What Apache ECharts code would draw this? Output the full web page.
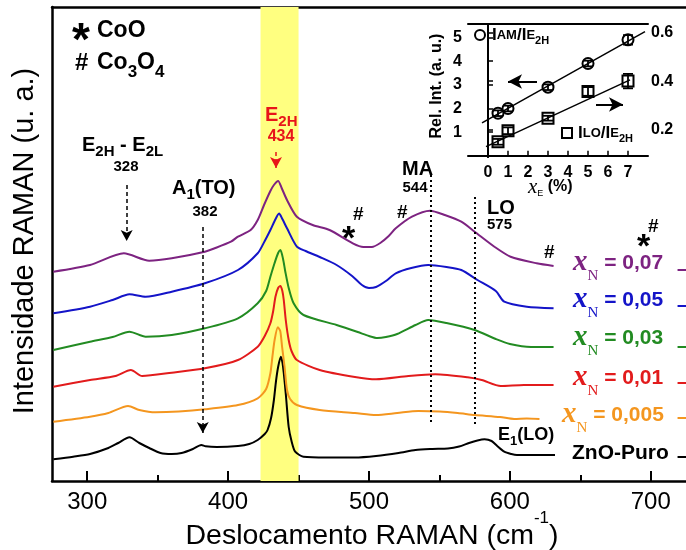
<!DOCTYPE html>
<html>
<head>
<meta charset="utf-8">
<script src="https://cdn.jsdelivr.net/npm/echarts@6/dist/echarts.min.js"></script>
<style>
  html, body { margin: 0; padding: 0; background: #fff; }
  #chart { width: 686px; height: 550px; }
</style>
</head>
<body>
<div id="chart"></div>
<script>
// Raman spectra of Zn(1-x)Co(x)O samples: [shift (cm-1), intensity (a.u.)],
// each spectrum stacked with its own vertical offset.
const spectrumZnO = [[276,21.7],[290,24.3],[302,27],[315,33],[322,38],[330,43.7],[337,38],[344,33],[352,28],[360,27],[367,28],[375,32],[381,36],[384,34.7],[392,34],[407,35],[415,37],[421,41],[426,47],[428,51],[430.5,63],[432.5,81],[434,100],[435.5,114],[437.4,124.3],[438.5,119],[439.5,108],[441,86],[443,54],[445,40],[447.6,29.3],[453.5,24.3],[470,23.5],[490,23.5],[505,25],[521,28],[533,31],[545,32],[556,32.5],[564,34.5],[571,38],[577,40.5],[582,41.7],[587,40],[591,35],[596,29.3],[601,27],[605,26],[615,26],[632,26]];
const spectrum0005 = [[276,59.3],[302,64.3],[315,68],[329,75],[337,71],[348.5,68.7],[365,69.5],[383.5,71.7],[407,76],[421,82.7],[427,92],[430,107.7],[431.5,125],[433,141],[435.3,153.7],[437,150],[438.3,134.3],[440,115],[441.8,91],[444,82],[448.8,76],[465,71],[490,68],[505,66],[520,68],[535,70],[550,69.5],[563,68],[575,66],[593,64],[603,62],[612,62.5],[621,62]];
const spectrum001 = [[276,94.3],[302,101],[320,105],[331,111],[339,105],[360,108.3],[383.5,112.7],[407,121],[421,134.3],[426,145],[430,157.7],[432,170],[433.6,184.3],[435.5,193],[437.1,195],[438.5,190],[439.5,181],[441,160],[443,141],[445,130],[448.8,121],[465,111],[490,104],[505,101.7],[528,105],[547,106.7],[570,103.7],[580,101],[593.5,95],[610,96],[631,96]];
const spectrum003 = [[276,131],[302,139.3],[318,144],[330,149.3],[341.5,144.3],[360,146],[383.5,152.7],[407,162.7],[421,177.7],[427,190],[430,204.3],[433,218],[435.5,228],[437.1,231],[439,222],[440.6,209.3],[443,193],[446.5,177.7],[453.5,166],[477,156],[492,149],[500,145],[506,143],[512,144],[520,147],[533,156],[542,161],[555,158],[575,151],[590,142],[600,137],[615,134],[631,134]];
const spectrum005 = [[276,167.7],[302,174.3],[318,181],[330,186.7],[341.5,184.3],[360,189.3],[383.5,197.7],[407,211],[421,227.7],[426,240],[430,251],[433,260],[436.2,267.5],[438.5,262],[441.8,252.7],[448.8,234.3],[455,230],[465,224],[477,216],[488,205],[495,196],[500,193],[505,194],[512,200],[519,207.7],[530,213],[542,216],[555,214],[565.5,211],[577,201],[590,190],[596,179.3],[612,174.3],[631,172.7]];
const spectrum007 = [[276,209.3],[302,216],[326,227.7],[344,220.3],[360,222.7],[383.5,229.3],[390.5,232.7],[402,239.3],[407,244.3],[416,251],[421,261],[425.5,276],[430,290],[432.5,296],[435.5,300],[438,293],[441.8,281],[448.8,264.3],[460,256],[472,251],[488.5,237.7],[496,234],[502,234],[508,238],[514,245],[519,252.7],[530.5,264.3],[543.3,270.3],[553.8,266],[565.5,259.3],[575,249.3],[589,234.3],[600.5,224.3],[619,217.7],[631,215]];

// Short segments where each trace continues past the right edge
const edgeLevels = [24, 63, 98, 134, 175, 211];
const edgeShifts = [719, 725];

// Phonon modes marked on the spectra (cm-1)
const modeE2HE2L = 328;
const modeA1TO = 382;
const modeE2H = 434;
const modeMA = 544;
const modeLO = 575;
const bandE2H = [423, 450];

// Main axis ticks
const shiftTicks = [300, 400, 500, 600, 700];
const shiftMinorTicks = [350, 450, 550, 650];

// Inset: relative intensities vs Co content x_E (%)
const insetXE = [0.5, 1, 3, 5, 7];
const ratioAM = [1.8, 2.0, 2.9, 3.9, 4.9];
const ratioAMErr = [0.12, 0.12, 0.12, 0.12, 0.2];
const ratioLO = [0.148, 0.194, 0.246, 0.357, 0.40];
const ratioLOErr = [0.012, 0.014, 0.01, 0.018, 0.03];
const fitAM = [[-0.3, 1.39], [7.85, 5.25]];
const fitLO = [[-0.1, 0.128], [7.1, 0.405]];
const insetXTicks = [0, 1, 2, 3, 4, 5, 6, 7];
const insetLeftTicks = [1, 2, 3, 4, 5];
const insetRightTicks = [0.2, 0.4, 0.6];

const SANS = 'Liberation Sans';
const SERIF = 'Liberation Serif';
const C = {
  zno: '#000000', s0005: '#f4961f', s001: '#e21b1c', s003: '#228b22',
  s005: '#1414c8', s007: '#7d2381'
};

const chart = echarts.init(document.getElementById('chart'), null, { renderer: 'canvas' });

function spectrumSeries(name, data, color) {
  return {
    name, type: 'line', data, xAxisIndex: 0, yAxisIndex: 0,
    showSymbol: false, smooth: 0.25, z: 3, silent: true,
    lineStyle: { color, width: 2 }
  };
}

function errorSeries(name, xs, ys, errs, yAxisIndex) {
  return {
    name, type: 'custom', xAxisIndex: 3, yAxisIndex, z: 6, silent: true,
    data: xs.map((x, i) => [x, ys[i], errs[i]]),
    renderItem(params, api) {
      const x = api.value(0), y = api.value(1), e = api.value(2);
      const top = api.coord([x, y + e]);
      const bot = api.coord([x, y - e]);
      const w = 5;
      const st = { stroke: '#000', lineWidth: 1.8 };
      return {
        type: 'group',
        children: [
          { type: 'line', shape: { x1: top[0], y1: top[1], x2: bot[0], y2: bot[1] }, style: st },
          { type: 'line', shape: { x1: top[0] - w, y1: top[1], x2: top[0] + w, y2: top[1] }, style: st },
          { type: 'line', shape: { x1: bot[0] - w, y1: bot[1], x2: bot[0] + w, y2: bot[1] }, style: st }
        ]
      };
    }
  };
}

// text helper for annotations
function txt(x, y, text, style, extra) {
  return Object.assign({
    type: 'text', x, y, z: 100, silent: true,
    style: Object.assign({
      text, fill: '#000', fontFamily: SANS, fontWeight: 'bold', fontSize: 20,
      align: 'left', verticalAlign: 'middle'
    }, style || {})
  }, extra || {});
}

const subStyle = (size, drop) => ({ fontFamily: SANS, fontWeight: 'bold', fontSize: size, padding: [drop, 0, 0, 0] });

function xnLabel(x, y, value, color) {
  return txt(x, y, '{x|x}{n|N}{v| = ' + value + '}', {
    fill: color,
    rich: {
      x: { fontFamily: SERIF, fontStyle: 'italic', fontWeight: 'bold', fontSize: 29, fill: color },
      n: { fontFamily: SERIF, fontWeight: 'normal', fontSize: 15, fill: color, padding: [26, 0, 0, 0] },
      v: { fontFamily: SANS, fontWeight: 'bold', fontSize: 21, fill: color }
    }
  });
}

const guideStyle = { type: [4, 3], color: '#000', width: 1.5 };
const dottedStyle = { type: [2, 3], color: '#000', width: 2 };

const option = {
  animation: false,
  backgroundColor: '#fff',
  textStyle: { fontFamily: SANS },
  grid: [
    { left: 52, top: 7, width: 643, height: 474 },
    { left: 468, top: 24, width: 180, height: 133, show: true, backgroundColor: '#fff', borderWidth: 0, z: 5 }
  ],
  xAxis: [
    {
      gridIndex: 0, type: 'value', min: 275, max: 725, position: 'bottom',
      axisLine: { lineStyle: { color: '#000', width: 2.5 } },
      axisTick: { inside: true, length: 10, lineStyle: { width: 2, color: '#000' }, customValues: shiftTicks },
      axisLabel: { customValues: shiftTicks, fontSize: 24, color: '#000', margin: 9, fontFamily: SANS },
      splitLine: { show: false }
    },
    {
      gridIndex: 0, type: 'value', min: 275, max: 725, position: 'bottom',
      axisLine: { show: false },
      axisTick: { inside: true, length: 6, lineStyle: { width: 2, color: '#000' }, customValues: shiftMinorTicks },
      axisLabel: { show: false }, splitLine: { show: false }
    },
    {
      gridIndex: 0, type: 'value', min: 275, max: 725, position: 'top',
      axisLine: { lineStyle: { color: '#000', width: 2.5 } },
      axisTick: { show: false }, axisLabel: { show: false }, splitLine: { show: false }
    },
    {
      gridIndex: 1, type: 'value', min: -1, max: 8, position: 'bottom', z: 7,
      axisLine: { lineStyle: { color: '#000', width: 2 } },
      axisTick: { inside: true, length: 5, lineStyle: { width: 1.5, color: '#000' }, customValues: insetXTicks },
      axisLabel: { customValues: insetXTicks, fontSize: 16, fontWeight: 'bold', color: '#000', margin: 8 },
      splitLine: { show: false }
    },
    {
      gridIndex: 1, type: 'value', min: -1, max: 8, position: 'top', z: 7,
      axisLine: { lineStyle: { color: '#000', width: 2 } },
      axisTick: { show: false }, axisLabel: { show: false }, splitLine: { show: false }
    }
  ],
  yAxis: [
    {
      gridIndex: 0, type: 'value', min: 0, max: 474,
      axisLine: { lineStyle: { color: '#000', width: 2.5 } },
      axisTick: { show: false }, axisLabel: { show: false }, splitLine: { show: false }
    },
    {
      gridIndex: 1, type: 'value', min: -0.05, max: 5.57, position: 'left', z: 7,
      axisLine: { lineStyle: { color: '#000', width: 2 } },
      axisTick: { inside: true, length: 5, lineStyle: { width: 1.5, color: '#000' }, customValues: insetLeftTicks },
      axisLabel: { customValues: insetLeftTicks, fontSize: 16, fontWeight: 'bold', color: '#000', margin: 6 },
      splitLine: { show: false }
    },
    {
      gridIndex: 1, type: 'value', min: 0.085, max: 0.637, position: 'right', z: 7,
      axisLine: { lineStyle: { color: '#000', width: 2 } },
      axisTick: { inside: false, length: 5, lineStyle: { width: 1.5, color: '#000' }, customValues: insetRightTicks },
      axisLabel: { customValues: insetRightTicks, fontSize: 16, fontWeight: 'bold', color: '#000', margin: 3,
        formatter: v => v.toFixed(1) },
      splitLine: { show: false }
    }
  ],
  series: [
    // E2H band
    {
      name: 'band', type: 'line', data: [], xAxisIndex: 0, yAxisIndex: 0, z: 1, silent: true,
      markArea: {
        silent: true,
        itemStyle: { color: '#ffff80' },
        data: [[{ xAxis: bandE2H[0] }, { xAxis: bandE2H[1] }]]
      }
    },
    spectrumSeries('ZnO-Puro', spectrumZnO, C.zno),
    spectrumSeries('x_N = 0,005', spectrum0005, C.s0005),
    spectrumSeries('x_N = 0,01', spectrum001, C.s001),
    spectrumSeries('x_N = 0,03', spectrum003, C.s003),
    spectrumSeries('x_N = 0,05', spectrum005, C.s005),
    spectrumSeries('x_N = 0,07', spectrum007, C.s007),
    ...[C.zno, C.s0005, C.s001, C.s003, C.s005, C.s007].map((color, i) => ({
      name: 'edge' + i, type: 'line', xAxisIndex: 0, yAxisIndex: 0, showSymbol: false, silent: true, z: 3,
      data: edgeShifts.map(s => [s, edgeLevels[i]]),
      lineStyle: { color, width: 2 }
    })),
    // mode guides
    {
      name: 'guides', type: 'line', data: [], xAxisIndex: 0, yAxisIndex: 0, z: 4, silent: true,
      markLine: {
        silent: true, animation: false,
        symbol: ['none', 'arrow'], symbolSize: [9, 11],
        label: { show: false },
        lineStyle: guideStyle,
        data: [
          [{ coord: [modeE2HE2L, 296] }, { coord: [modeE2HE2L, 240] }],
          [{ coord: [modeA1TO, 254] }, { coord: [modeA1TO, 48] }],
          [{ coord: [modeE2H, 329], lineStyle: { type: [4, 3], color: '#e8141a', width: 1.5 } },
           { coord: [modeE2H, 313], itemStyle: { color: '#e8141a' } }],
          [{ coord: [modeMA, 306], symbol: 'none', lineStyle: dottedStyle }, { coord: [modeMA, 56], symbol: 'none' }],
          [{ coord: [modeLO, 284], symbol: 'none', lineStyle: dottedStyle }, { coord: [modeLO, 56], symbol: 'none' }]
        ]
      }
    },
    // inset
    {
      name: 'fitAM', type: 'line', data: fitAM, xAxisIndex: 3, yAxisIndex: 1, z: 6, silent: true,
      showSymbol: false, lineStyle: { color: '#000', width: 1.5 }
    },
    {
      name: 'fitLO', type: 'line', data: fitLO, xAxisIndex: 3, yAxisIndex: 2, z: 6, silent: true,
      showSymbol: false, lineStyle: { color: '#000', width: 1.5 }
    },
    errorSeries('errAM', insetXE, ratioAM, ratioAMErr, 1),
    errorSeries('errLO', insetXE, ratioLO, ratioLOErr, 2),
    {
      name: 'I_AM/I_E2H', type: 'scatter', data: insetXE.map((x, i) => [x, ratioAM[i]]),
      xAxisIndex: 3, yAxisIndex: 1, z: 5, silent: true, symbol: 'circle', symbolSize: 11,
      itemStyle: { color: '#fff', borderColor: '#000', borderWidth: 2, opacity: 1 }
    },
    {
      name: 'I_LO/I_E2H', type: 'scatter', data: insetXE.map((x, i) => [x, ratioLO[i]]),
      xAxisIndex: 3, yAxisIndex: 2, z: 5, silent: true, symbol: 'rect', symbolSize: 11,
      itemStyle: { color: '#fff', borderColor: '#000', borderWidth: 2, opacity: 1 }
    },
    {
      name: 'insetArrows', type: 'line', data: [], xAxisIndex: 3, yAxisIndex: 1, z: 7, silent: true,
      markLine: {
        silent: true, animation: false, symbol: ['none', 'arrow'], symbolSize: [11, 14],
        label: { show: false }, lineStyle: { type: 'solid', color: '#000', width: 2 },
        data: [
          [{ coord: [2.45, 3.14] }, { coord: [1.0, 3.14] }],
          [{ coord: [5.4, 2.17] }, { coord: [6.75, 2.17] }]
        ]
      }
    }
  ],
  graphic: [
    // axis titles
    txt(25, 241, 'Intensidade RAMAN (u. a.)', { fontWeight: 'normal', fontSize: 29, align: 'center' }, { rotation: Math.PI / 2 }),
    txt(372, 536, 'Deslocamento RAMAN (cm{sup|-1})', {
      fontWeight: 'normal', fontSize: 28.5, align: 'center',
      rich: { sup: { fontFamily: SANS, fontSize: 17, padding: [0, 0, 36, 0] } }
    }),
    // compound key
    txt(72, 42, '*', { fontSize: 46 }),
    txt(97, 31, 'CoO', { fontSize: 23 }),
    txt(75, 63, '#', { fontSize: 24 }),
    txt(97, 63, 'Co{s|3}O{s|4}', { fontSize: 23, rich: { s: subStyle(17, 18) } }),
    // mode labels
    txt(82, 145, 'E{s|2H} - E{s|2L}', { fontSize: 20, rich: { s: subStyle(15, 14) } }),
    txt(126, 167, '328', { fontSize: 15, align: 'center' }),
    txt(172, 188, 'A{s|1}(TO)', { fontSize: 20, rich: { s: subStyle(15, 14) } }),
    txt(205, 212, '382', { fontSize: 15, align: 'center' }),
    txt(265, 115, 'E{s|2H}', { fontSize: 20, fill: '#e8141a', rich: { s: Object.assign(subStyle(15, 14), { fill: '#e8141a' }) } }),
    txt(281, 137, '434', { fontSize: 16, align: 'center', fill: '#e8141a' }),
    txt(402, 169, 'MA', { fontSize: 20 }),
    txt(415, 188, '544', { fontSize: 15, align: 'center' }),
    txt(487, 208, 'LO', { fontSize: 20 }),
    txt(487, 225, '575', { fontSize: 15 }),
    txt(498, 435, 'E{s|1}(LO)', { fontSize: 18, rich: { s: subStyle(13, 12) } }),
    // Co oxide markers on the x_N = 0,07 trace
    txt(342, 240, '*', { fontSize: 34 }),
    txt(353, 215, '#', { fontSize: 19 }),
    txt(397, 213, '#', { fontSize: 19 }),
    txt(544, 253, '#', { fontSize: 19 }),
    txt(637, 248, '*', { fontSize: 34 }),
    txt(648, 227, '#', { fontSize: 19 }),
    // sample labels
    xnLabel(573, 263, '0,07', C.s007),
    xnLabel(573, 300, '0,05', C.s005),
    xnLabel(573, 338, '0,03', C.s003),
    xnLabel(573, 378, '0,01', C.s001),
    xnLabel(562, 415, '0,005', C.s0005),
    txt(572, 453, 'ZnO-Puro', { fontSize: 21 }),
    // inset annotations
    txt(437, 86, 'Rel. Int. (a. u.)', { fontSize: 16, align: 'center' }, { rotation: Math.PI / 2 }),
    txt(528, 187, '{x|x}{e|E} (%)', {
      fontSize: 16,
      rich: {
        x: { fontFamily: SERIF, fontStyle: 'italic', fontWeight: 'normal', fontSize: 21 },
        e: { fontFamily: SANS, fontWeight: 'normal', fontSize: 9, padding: [14, 0, 0, 0] }
      }
    }),
    { type: 'circle', z: 100, silent: true, shape: { cx: 480, cy: 35, r: 5 }, style: { fill: '#fff', stroke: '#000', lineWidth: 2 } },
    txt(492, 35, 'I{m|AM}/I{m|E}{s|2H}', { fontSize: 17, rich: { m: { fontFamily: SANS, fontWeight: 'bold', fontSize: 13 }, s: subStyle(11, 12) } }),
    { type: 'rect', z: 100, silent: true, shape: { x: 562, y: 128, width: 10, height: 10 }, style: { fill: '#fff', stroke: '#000', lineWidth: 2 } },
    txt(578, 133, 'I{m|LO}/I{m|E}{s|2H}', { fontSize: 17, rich: { m: { fontFamily: SANS, fontWeight: 'bold', fontSize: 13 }, s: subStyle(11, 12) } })
  ]
};

chart.setOption(option);
</script>
</body>
</html>
